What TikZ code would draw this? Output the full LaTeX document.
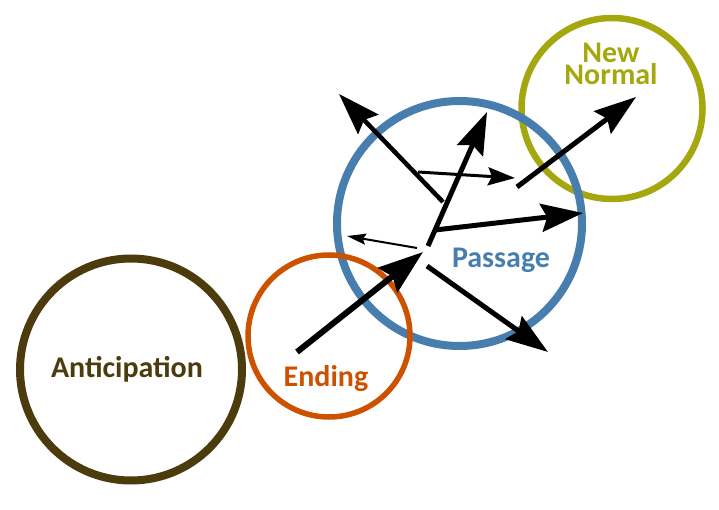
\documentclass[tikz,border=0pt]{standalone}
\usepackage{fontspec}
\setmainfont{Carlito}
\usetikzlibrary{arrows.meta}
\definecolor{cbrown}{HTML}{4C3B0C}
\definecolor{corange}{HTML}{CC5200}
\definecolor{cblue}{HTML}{477EAE}
\definecolor{colive}{HTML}{A5A70E}
\tikzset{
  ring/.style={circle, draw, inner sep=0pt, outer sep=0pt},
  lbl/.style={anchor=base, inner sep=0pt, font=\fontsize{30}{22.5}\selectfont\bfseries},
  bigarrow/.style={-{Stealth[length=42pt, width=28pt, inset=6pt]}, line width=5pt},
  midarrow/.style={-{Stealth[length=27pt, width=18pt, inset=4pt]}, line width=3pt},
  thinarrow/.style={-{Stealth[length=19pt, width=11pt, inset=3pt]}, line width=2pt},
}
\begin{document}
\begin{tikzpicture}[x=1pt, y=-1pt]
\useasboundingbox (0,0) rectangle (719,510);
% circles
\node[ring, draw=colive, line width=6.5pt, minimum size=181pt] (newnormal) at (612,108.5) {};
\node[ring, draw=cblue, line width=8pt, minimum size=245pt] (passage) at (459.5,223.5) {};
\node[ring, draw=corange, line width=5.5pt, minimum size=162pt] (ending) at (329,336) {};
\node[ring, draw=cbrown, line width=8pt, minimum size=222pt] (anticipation) at (131,369.5) {};
% labels
\node[lbl, text=cbrown] (tA) at (127,377) {Anticipation};
\node[lbl, text=corange] (tE) at (326,386) {Ending};
\node[lbl, text=cblue] (tP) at (501,268) {Passage};
\node[lbl, text=colive, align=center] (tN) at (611,85) {New\\Normal};
% arrow coordinates
\coordinate (e0) at (297,352);  \coordinate (e1) at (423,252);
\coordinate (ul0) at (443,202); \coordinate (ul1) at (339,94);
\coordinate (up0) at (428,246); \coordinate (up1) at (487,112);
\coordinate (h0) at (418,172);  \coordinate (h1) at (515,178);
\coordinate (r0) at (435,230);  \coordinate (r1) at (583,213);
\coordinate (l0) at (417,248);  \coordinate (l1) at (347,236);
\coordinate (d0) at (427,266);  \coordinate (d1) at (548,352);
\coordinate (n0) at (517,187);  \coordinate (n1) at (636,97);
% arrows
\draw[bigarrow, line width=6pt, -{Stealth[length=45pt, width=31pt, inset=6pt]}] (e0) -- (e1);
\draw[bigarrow, line width=4.5pt] (ul0) -- (ul1);
\draw[bigarrow] (up0) -- (up1);
\draw[midarrow] (h0) -- (h1);
\draw[bigarrow] (r0) -- (r1);
\draw[thinarrow] (l0) -- (l1);
\draw[bigarrow] (d0) -- (d1);
\draw[bigarrow] (n0) -- (n1);
\end{tikzpicture}
\end{document}
